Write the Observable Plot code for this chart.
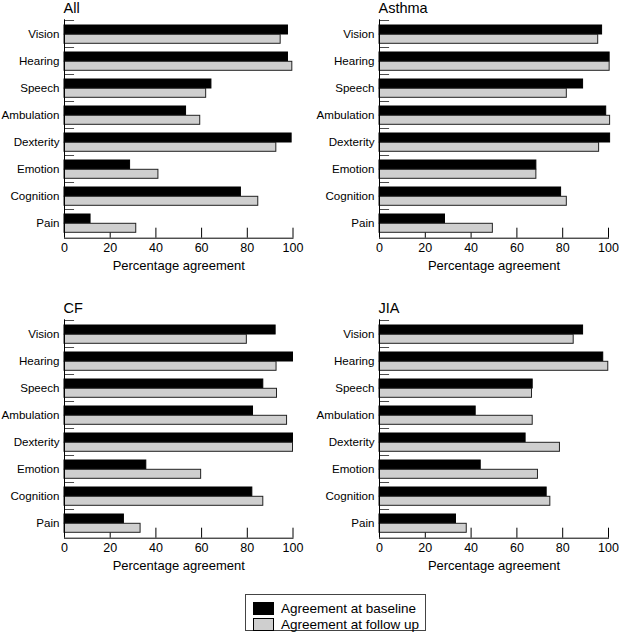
<!DOCTYPE html>
<html><head><meta charset="utf-8">
<script src="https://cdn.jsdelivr.net/npm/d3@7"></script>
<script src="https://cdn.jsdelivr.net/npm/@observablehq/plot@0.6"></script>
<style>
body{margin:0;background:#fff;font-family:"Liberation Sans",sans-serif;}
#wrap{position:relative;width:619px;height:639px;}
.panel{position:absolute;}
#legend{position:absolute;left:245px;top:594px;width:181px;height:37px;border:1px solid #444;box-sizing:border-box;font-size:13.5px;color:#000;}
.row{position:absolute;left:7px;height:13px;line-height:13px;white-space:nowrap;}
.sw{display:inline-block;width:19px;height:11px;border:1px solid #000;vertical-align:top;margin-right:7px;}
</style></head><body><div id="wrap"><div id="legend"></div></div>
<script>
const categories = ["Vision","Hearing","Speech","Ambulation","Dexterity","Emotion","Cognition","Pain"];
const panelTitles = ["All","Asthma","CF","JIA"];
const seriesNames = ["Agreement at baseline","Agreement at follow up"];
const xTicks = [0,20,40,60,80,100];
const xLabel = "Percentage agreement";

const baselineAll    = [97.8,97.8,64.3,53.2,99.4,28.7,77.2,11.4];
const followUpAll    = [94.6,99.7,62.0,59.4,92.7,41.1,84.8,31.4];
const baselineAsthma = [97.2,100.5,88.9,99.0,100.7,68.5,79.3,28.6];
const followUpAsthma = [95.5,100.5,81.8,100.7,95.9,68.5,81.8,49.5];
const baselineCF     = [92.4,100,87.0,82.5,100,35.8,82.2,26.0];
const followUpCF     = [79.8,92.8,93.0,97.4,100,59.8,87.0,33.3];
const baselineJIA    = [88.9,97.7,66.9,42.0,63.8,44.2,73.0,33.4];
const followUpJIA    = [84.8,99.9,66.6,66.9,78.8,69.2,74.6,38.1];

const seriesByPanel = {
  All: [baselineAll, followUpAll],
  Asthma: [baselineAsthma, followUpAsthma],
  CF: [baselineCF, followUpCF],
  JIA: [baselineJIA, followUpJIA]
};
const colors = ["#000000", "#cfcfcf"];

const layout = [
  {left: 0, top: 0, ml: 64, mr: 16.5},
  {left: 310, top: 0, ml: 69, mr: 11},
  {left: 0, top: 300, ml: 64, mr: 16.5},
  {left: 310, top: 300, ml: 69, mr: 11}
];
const H = 290, MT = 19.3, MB = 52.3;
const frameH = H - MT - MB;
const step = frameH / categories.length;

const wrap = document.getElementById("wrap");
panelTitles.forEach((title, p) => {
  const [base, follow] = seriesByPanel[title];
  const rows = categories.map((c, i) => ({category: c, baseline: base[i], followUp: follow[i]}));
  const L = layout[p];
  const chart = Plot.plot({
    width: 309, height: H,
    marginLeft: L.ml, marginRight: L.mr, marginTop: MT, marginBottom: MB,
    style: {fontFamily: "Liberation Sans, sans-serif", fontSize: "12px", color: "#000", background: "transparent", overflow: "visible"},
    x: {domain: [0, 100]},
    y: {domain: categories, padding: 0},
    marks: [
      Plot.ruleX(xTicks.slice(1), {insetTop: frameH - 10, stroke: "#000", strokeWidth: 1}),
      Plot.barX(rows, {x: "baseline", y: "category", fill: colors[0], stroke: "#000", strokeWidth: 1, insetTop: 5, insetBottom: step - 14.3}),
      Plot.barX(rows, {x: "followUp", y: "category", fill: colors[1], stroke: "#222", strokeWidth: 1, insetTop: 14.3, insetBottom: step - 23.6}),
      Plot.barX(categories, {y: d => d, x1: 0, x2: 4.4, insetBottom: step - 1, fill: "#000"}),
      Plot.ruleX([0], {stroke: "#000"}),
      Plot.frame({anchor: "bottom", stroke: "#000"}),
      Plot.axisY({tickSize: 0, tickPadding: 5, label: null, fontSize: 11.6}),
      Plot.axisX({ticks: xTicks, tickSize: 0, tickPadding: 5, label: null, fontSize: 12.5}),
      Plot.text([xLabel], {frameAnchor: "bottom", dy: 32, lineAnchor: "bottom", fontSize: 13}),
      Plot.text([title], {frameAnchor: "top-left", dy: -7, dx: -1, lineAnchor: "bottom", textAnchor: "start", fontSize: 14.5})
    ]
  });
  chart.classList.add("panel");
  chart.style.left = L.left + "px";
  chart.style.top = L.top + "px";
  wrap.appendChild(chart);
});

const legend = document.getElementById("legend");
seriesNames.forEach((name, i) => {
  const row = document.createElement("div");
  row.className = "row";
  row.style.top = (7 + i * 15.5) + "px";
  const sw = document.createElement("span");
  sw.className = "sw";
  sw.style.background = colors[i];
  row.appendChild(sw);
  row.appendChild(document.createTextNode(name));
  legend.appendChild(row);
});
</script>
</body></html>
